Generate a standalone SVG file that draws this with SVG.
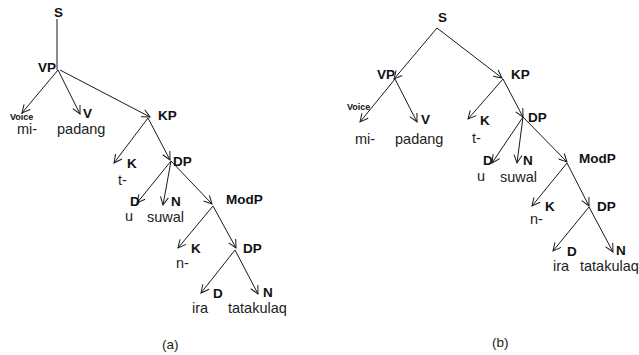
<svg xmlns="http://www.w3.org/2000/svg" width="639" height="355" viewBox="0 0 639 355">
  <style>
    .cat { font-family: "Liberation Sans", Arial, sans-serif; font-weight: bold; font-size: 13.5px; fill: #111; }
    .sm  { font-family: "Liberation Sans", Arial, sans-serif; font-weight: bold; font-size: 9px; fill: #111; }
    .wd  { font-family: "Liberation Sans", Arial, sans-serif; font-size: 14.5px; fill: #222; }
    .cap { font-family: "Liberation Sans", Arial, sans-serif; font-size: 13.5px; fill: #222; }
    .edge { stroke: #1a1a1a; stroke-width: 1; fill: none; }
    .arr { stroke: #1a1a1a; stroke-width: 1; fill: none; marker-end: url(#head); }
  </style>
  <defs>
    <marker id="head" markerUnits="userSpaceOnUse" markerWidth="12" markerHeight="12" refX="8" refY="4" orient="auto" overflow="visible">
      <path d="M0,0 L8,4 L0,8" fill="none" stroke="#1a1a1a" stroke-width="1"/>
    </marker>
  </defs>
  <rect width="639" height="355" fill="#fff"/>

  <!-- connectors -->
  <g id="connectors">
    <!-- tree (a) -->
    <line class="edge" x1="57" y1="19" x2="57" y2="70"/>
    <line class="arr" x1="58" y1="70" x2="22" y2="113"/>
    <line class="arr" x1="58" y1="70" x2="80" y2="114"/>
    <line class="arr" x1="60" y1="70" x2="150" y2="117"/>
    <line class="arr" x1="148" y1="118" x2="114" y2="163"/>
    <line class="arr" x1="148" y1="118" x2="170" y2="160"/>
    <line class="arr" x1="171" y1="161" x2="137" y2="203"/>
    <line class="arr" x1="171" y1="161" x2="163" y2="205"/>
    <line class="arr" x1="171" y1="161" x2="212" y2="204"/>
    <line class="arr" x1="213" y1="206" x2="178" y2="248"/>
    <line class="arr" x1="213" y1="206" x2="236" y2="248"/>
    <line class="arr" x1="235" y1="250" x2="201" y2="293"/>
    <line class="arr" x1="235" y1="250" x2="258" y2="294"/>
    <!-- tree (b) -->
    <line class="arr" x1="437" y1="28" x2="394" y2="79"/>
    <line class="arr" x1="437" y1="28" x2="502" y2="78"/>
    <line class="arr" x1="395" y1="79" x2="360" y2="122"/>
    <line class="arr" x1="395" y1="79" x2="417" y2="122"/>
    <line class="arr" x1="503" y1="79" x2="468" y2="119"/>
    <line class="arr" x1="503" y1="79" x2="523" y2="117"/>
    <line class="arr" x1="523" y1="117" x2="492" y2="163"/>
    <line class="arr" x1="523" y1="117" x2="517" y2="163"/>
    <line class="arr" x1="523" y1="117" x2="567" y2="162"/>
    <line class="arr" x1="567" y1="163" x2="532" y2="206"/>
    <line class="arr" x1="567" y1="163" x2="589" y2="206"/>
    <line class="arr" x1="589" y1="207" x2="553" y2="251"/>
    <line class="arr" x1="589" y1="207" x2="613" y2="252"/>
  </g>

  <!-- tree (a) nodes -->
  <g id="a-S"><text class="cat" x="54" y="17">S</text></g>
  <g id="a-VP"><text class="cat" x="38" y="72">VP</text></g>
  <g id="a-Voice"><text class="sm" x="10" y="120">Voice</text><text class="wd" x="17" y="134">mi-</text></g>
  <g id="a-V"><text class="cat" x="83" y="118">V</text><text class="wd" x="57" y="134">padang</text></g>
  <g id="a-KP"><text class="cat" x="158" y="120">KP</text></g>
  <g id="a-K"><text class="cat" x="127" y="168">K</text><text class="wd" x="118" y="185">t-</text></g>
  <g id="a-DP1"><text class="cat" x="173" y="166">DP</text></g>
  <g id="a-D1"><text class="cat" x="130" y="206">D</text><text class="wd" x="125" y="221">u</text></g>
  <g id="a-N1"><text class="cat" x="171" y="206">N</text><text class="wd" x="147" y="222">suwal</text></g>
  <g id="a-ModP"><text class="cat" x="226" y="204">ModP</text></g>
  <g id="a-K2"><text class="cat" x="191" y="253">K</text><text class="wd" x="176" y="268">n-</text></g>
  <g id="a-DP2"><text class="cat" x="243" y="253">DP</text></g>
  <g id="a-D2"><text class="cat" x="213" y="298">D</text><text class="wd" x="192" y="313">ira</text></g>
  <g id="a-N2"><text class="cat" x="263" y="297">N</text><text class="wd" x="228" y="313">tatakulaq</text></g>
  <g id="a-caption"><text class="cap" x="162" y="349">(a)</text></g>

  <!-- tree (b) nodes -->
  <g id="b-S"><text class="cat" x="438" y="22">S</text></g>
  <g id="b-VP"><text class="cat" x="377" y="79">VP</text></g>
  <g id="b-Voice"><text class="sm" x="347" y="110">Voice</text><text class="wd" x="355" y="144">mi-</text></g>
  <g id="b-V"><text class="cat" x="421" y="124">V</text><text class="wd" x="395" y="144">padang</text></g>
  <g id="b-KP"><text class="cat" x="511" y="79">KP</text></g>
  <g id="b-K"><text class="cat" x="480" y="125">K</text><text class="wd" x="472" y="143">t-</text></g>
  <g id="b-DP1"><text class="cat" x="528" y="122">DP</text></g>
  <g id="b-D1"><text class="cat" x="483" y="165">D</text><text class="wd" x="477" y="181">u</text></g>
  <g id="b-N1"><text class="cat" x="523" y="165">N</text><text class="wd" x="500" y="182">suwal</text></g>
  <g id="b-ModP"><text class="cat" x="579" y="163">ModP</text></g>
  <g id="b-K2"><text class="cat" x="545" y="211">K</text><text class="wd" x="530" y="224">n-</text></g>
  <g id="b-DP2"><text class="cat" x="597" y="211">DP</text></g>
  <g id="b-D2"><text class="cat" x="567" y="256">D</text><text class="wd" x="553" y="271">ira</text></g>
  <g id="b-N2"><text class="cat" x="616" y="255">N</text><text class="wd" x="580" y="271" font-size="14px">tatakulaq</text></g>
  <g id="b-caption"><text class="cap" x="492" y="347">(b)</text></g>
</svg>
